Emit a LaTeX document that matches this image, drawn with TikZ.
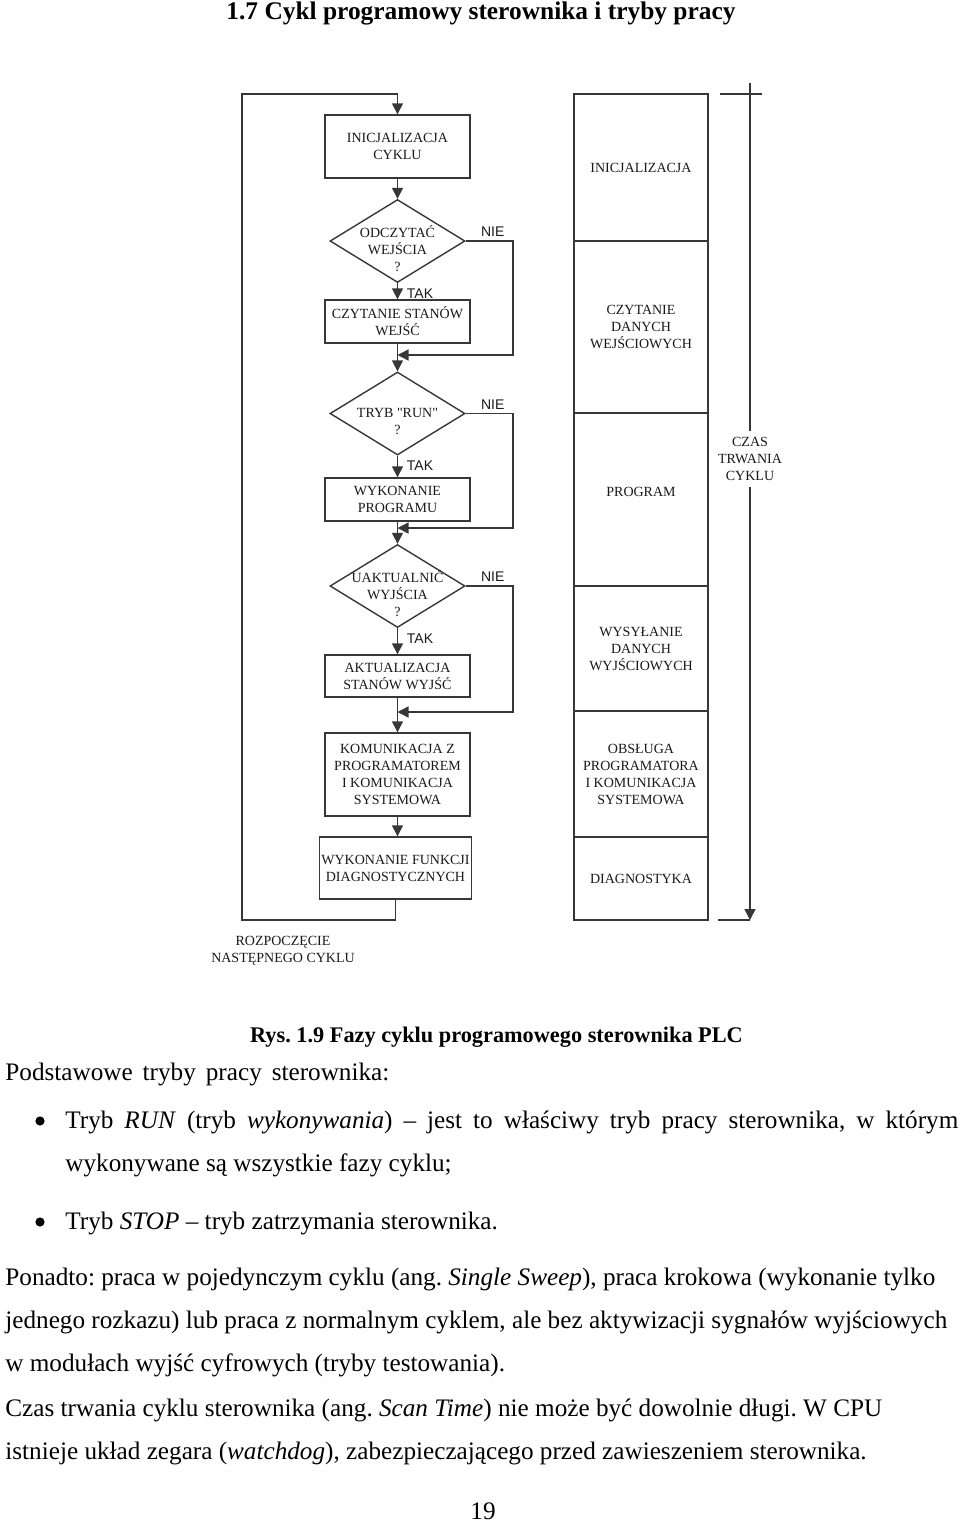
\documentclass[tikz,border=0pt]{standalone}
\usepackage{fontspec}
\setmainfont{Liberation Serif}
\newfontfamily\arialfont{Liberation Sans}
\newfontfamily\plainserif{Liberation Serif}[Ligatures=TeXOff]
\usetikzlibrary{arrows.meta,positioning,shapes.geometric}
\definecolor{ln}{RGB}{55,55,55}
\definecolor{tx}{RGB}{25,25,25}
\newcommand{\chartfont}{\fontsize{7}{8.5}\selectfont}
\newcommand{\bodyfont}{\fontsize{12.6}{15}\selectfont}
\newcommand{\headfont}{\fontsize{12.7}{15}\selectfont\bfseries}
\newcommand{\capfont}{\fontsize{11.15}{14}\selectfont\bfseries}
% decision: name, position, text
\newcommand{\decision}[3]{\node[dec] (#1) at (#2) {}; \node[chart, yshift=-4pt] (#1t) at (#2) {#3};}
% bypass on the NO side: decision, corner, merge point
\newcommand{\bypass}[3]{\draw[flow] (#1.east) -| (#2) -- (#3);}
\tikzset{
  chart/.style={font=\plainserif\chartfont, text=tx, align=center, inner sep=1pt},
  box/.style={chart, draw=ln, line width=0.7pt, minimum width=72.5pt},
  dec/.style={draw=ln, diamond, line width=0.7pt, minimum width=67.5pt, minimum height=41.5pt, inner sep=0pt},
  seg/.style={box, minimum width=67pt},
  flow/.style={draw=ln, line width=0.7pt, -{Triangle[length=5.5pt,width=5.5pt]}},
  yn/.style={font=\arialfont\chartfont, text=tx, inner sep=0pt},
  body/.style={font=\bodyfont, text=black, inner sep=0pt, anchor=base west},
  dot/.style={circle, fill=black, inner sep=0pt, minimum size=4.6pt},
}

\begin{document}
\frenchspacing
\begin{tikzpicture}[x=0.5pt,y=-0.5pt]
\useasboundingbox (0,0) rectangle (960,1523);
\node[font=\headfont, anchor=base] (title) at (481,19) {1.7 Cykl programowy sterownika i tryby pracy};

% lewa kolumna
\node[box, minimum height=31.5pt] (b1) at (397.5,146.5) {INICJALIZACJA\\CYKLU};
\decision{d1}{397.5,241}{ODCZYTAĆ\\WEJŚCIA\\?}
\node[box, minimum height=21.5pt] (b2) at (397.5,321.5) {CZYTANIE STANÓW\\WEJŚĆ};
\decision{d2}{397.5,413.5}{TRYB "RUN"\\?}
\node[box, minimum height=21.5pt] (b3) at (397.5,499.5) {WYKONANIE\\PROGRAMU};
\decision{d3}{397.5,586}{UAKTUALNIĆ\\WYJŚCIA\\?}
\node[box, minimum height=21pt] (b4) at (397.5,676) {AKTUALIZACJA\\STANÓW WYJŚĆ};
\node[box, minimum height=41.5pt] (b5) at (397.5,774.5) {KOMUNIKACJA Z\\PROGRAMATOREM\\I KOMUNIKACJA\\SYSTEMOWA};
\node[box, minimum height=31pt] (b6) at (395.5,868) {WYKONANIE FUNKCJI\\DIAGNOSTYCZNYCH};
\node[chart] (next) at (283,951) {ROZPOCZĘCIE\\NASTĘPNEGO CYKLU};

\coordinate (m1) at (397.5,355); \coordinate (e1) at (513,355);
\coordinate (m2) at (397.5,528); \coordinate (e2) at (513,528);
\coordinate (m3) at (397.5,712); \coordinate (e3) at (513,712);
\coordinate (lbot) at (242,920); \coordinate (ltop) at (242,94);

\draw[flow] (b1) -- (d1);
\draw[flow] (d1) -- (b2);
\draw[flow] (b2) -- (d2);
\draw[flow] (d2) -- (b3);
\draw[flow] (b3) -- (d3);
\draw[flow] (d3) -- (b4);
\draw[flow] (b4) -- (b5);
\draw[flow] (b5.south) -- (b5.south |- b6.north);
\bypass{d1}{e1}{m1}
\bypass{d2}{e2}{m2}
\bypass{d3}{e3}{m3}
\draw[flow] (b6.south) |- (lbot) -- (ltop) -| (b1.north);

\foreach \d in {1,2,3}{
  \node[yn, above right=2pt and 7.5pt of d\d.east] (nie\d) {NIE};
  \node[yn, below right=2.5pt and 4.5pt of d\d.south] (tak\d) {TAK};
}

% prawa kolumna
\node[seg, minimum height=73.5pt] (s1) at (641,167.5) {INICJALIZACJA};
\node[seg, minimum height=86pt] (s2) at (641,327) {CZYTANIE\\DANYCH\\WEJŚCIOWYCH};
\node[seg, minimum height=86.5pt, label={[chart, yshift=4pt]center:PROGRAM}] (s3) at (641,499.5) {};
\node[seg, minimum height=62.5pt] (s4) at (641,648.5) {WYSYŁANIE\\DANYCH\\WYJŚCIOWYCH};
\node[seg, minimum height=63pt] (s5) at (641,774) {OBSŁUGA\\PROGRAMATORA\\I KOMUNIKACJA\\SYSTEMOWA};
\node[seg, minimum height=41.5pt] (s6) at (641,878.5) {DIAGNOSTYKA};

\node[chart, inner sep=3pt] (czas) at (750,459) {CZAS\\TRWANIA\\CYKLU};
\coordinate (ttop) at (750,83); \coordinate (tbot) at (750,920);
\coordinate (tk1) at (720,94); \coordinate (tk2) at (762,94); \coordinate (tk3) at (718,920);
\draw[ln, line width=0.7pt] (ttop) -- (czas) (tk1) -- (tk2) (tk3) -- (tbot);
\draw[flow] (czas) -- (tbot);

% tekst
\node[font=\capfont, anchor=base] (rys) at (496.5,1042) {Rys. 1.9 Fazy cyklu programowego sterownika PLC};
\node[body] (p1) at (5,1080) {\makebox[192pt][s]{Podstawowe tryby pracy sterownika:}};
\node[dot] (dot1) at (40,1121) {};
\node[body] (p2) at (65,1128) {\makebox[446.5pt][s]{Tryb \textit{RUN} (tryb \textit{wykonywania}) – jest to właściwy tryb pracy sterownika, w którym}};
\node[body] (p3) at (65,1171) {wykonywane są wszystkie fazy cyklu;};
\node[dot] (dot2) at (40,1222) {};
\node[body] (p4) at (65,1229) {Tryb \textit{STOP} – tryb zatrzymania sterownika.};
\node[body] (p5) at (5,1285) {Ponadto: praca w pojedynczym cyklu (ang. \textit{Single Sweep}), praca krokowa (wykonanie tylko};
\node[body] (p6) at (5,1328) {jednego rozkazu) lub praca z normalnym cyklem, ale bez aktywizacji sygnałów wyjściowych};
\node[body] (p7) at (5,1371) {w modułach wyjść cyfrowych (tryby testowania).};
\node[body] (p8) at (5,1416) {Czas trwania cyklu sterownika (ang. \textit{Scan Time}) nie może być dowolnie długi. W CPU};
\node[body] (p9) at (5,1459) {istnieje układ zegara (\textit{watchdog}), zabezpieczającego przed zawieszeniem sterownika.};
\node[font=\bodyfont, anchor=base, inner sep=0pt] (pg) at (483,1519) {19};
\end{tikzpicture}
\end{document}
